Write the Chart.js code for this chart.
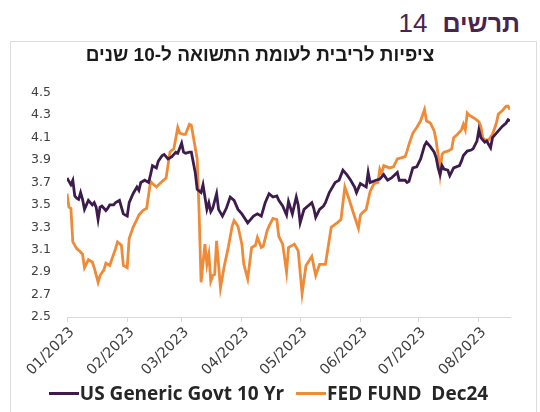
<!DOCTYPE html>
<html>
<head>
<meta charset="utf-8">
<script src="https://cdn.jsdelivr.net/npm/chart.js@4.4.1/dist/chart.umd.min.js"></script>
<style>
  html, body { margin: 0; padding: 0; background: #ffffff; overflow: hidden; }
  body { width: 540px; height: 412px; position: relative; }
  #header {
    position: absolute; right: 20px; top: 8px;
    direction: rtl; font-family: "Liberation Sans", Arial, sans-serif;
    font-size: 25px; color: #4a2350; line-height: 30px; white-space: nowrap;
  }
  #header b { font-weight: bold; margin-left: 15px; }
  #header span { font-size: 26px; }
  #frame {
    position: absolute; left: 10px; top: 41px; width: 527px; height: 390px;
    border: 1px solid #dcdcdc; box-sizing: border-box;
  }
  #wrap { position: absolute; left: 0px; top: 42px; width: 520px; height: 340px; }
  #legend {
    position: absolute; left: 11px; width: 515px; top: 381px; height: 24px;
    display: flex; justify-content: center; align-items: center;
    font-family: "Open Sans", sans-serif; font-weight: bold; font-size: 19px; color: #262626;
    white-space: pre;
  }
  .item { display: flex; align-items: center; margin: 0 6px; }
  .swatch { display: inline-block; width: 30px; height: 3px; margin-right: 1px; }
</style>
</head>
<body>
<div id="header"><b>תרשים</b><span>14</span></div>
<div id="frame"></div>
<div id="wrap"><canvas id="c"></canvas></div>
<div id="legend"></div>
<script>
// ---- Data (x = days since 01/01/2023) ----
const chartTitle = "ציפיות לריבית לעומת התשואה ל-10 שנים";
const seriesNames = ["US Generic Govt 10 Yr", "FED FUND  Dec24"];

const monthStarts = [0, 31, 59, 90, 120, 151, 181, 212];
const monthLabels = ["01/2023", "02/2023", "03/2023", "04/2023", "05/2023", "06/2023", "07/2023", "08/2023"];

const yTickMin = 2.5;
const yTickMax = 4.5;
const yTickStep = 0.2;

const govtDays = [0,1,2,3,4,5,6,7,8,9,11,13,14,15,16,17,18,20,21,22,24,25,27,29,31,32,34,36,37,38,40,42,43,44,46,47,49,50,52,54,55,56,57,59,60,61,63,64,66,67,69,70,72,73,74,75,77,78,80,82,84,86,88,90,93,96,98,100,102,104,106,108,109,111,113,114,116,118,119,120,122,124,126,127,128,130,132,133,135,138,139,140,142,144,146,148,149,151,153,154,155,156,159,161,163,165,167,170,171,174,175,176,178,180,182,184,185,187,189,190,191,192,193,194,196,197,199,202,203,204,206,208,209,211,212,213,215,216,218,219,221,222,224,226,227,228];
const govtValues = [3.74,3.71,3.68,3.72,3.58,3.56,3.55,3.61,3.55,3.46,3.54,3.50,3.52,3.48,3.37,3.48,3.49,3.45,3.47,3.50,3.50,3.52,3.54,3.42,3.40,3.52,3.60,3.66,3.63,3.70,3.72,3.70,3.77,3.85,3.83,3.89,3.94,3.95,3.91,3.93,3.95,3.97,3.96,4.05,3.97,3.96,3.97,3.97,3.79,3.64,3.61,3.68,3.46,3.52,3.44,3.47,3.60,3.46,3.40,3.47,3.57,3.54,3.46,3.42,3.34,3.40,3.42,3.40,3.52,3.60,3.57,3.58,3.54,3.49,3.41,3.53,3.42,3.57,3.50,3.34,3.46,3.49,3.52,3.47,3.39,3.46,3.49,3.52,3.61,3.70,3.71,3.72,3.81,3.77,3.72,3.66,3.61,3.69,3.67,3.66,3.79,3.70,3.72,3.73,3.77,3.72,3.74,3.79,3.72,3.72,3.70,3.71,3.83,3.84,3.91,4.03,4.06,4.02,3.97,3.92,3.83,3.77,3.85,3.82,3.81,3.76,3.83,3.85,3.89,3.94,3.98,3.99,4.00,4.07,4.17,4.10,4.06,4.07,4.01,4.10,4.14,4.16,4.20,4.23,4.26,4.25];

const fedDays = [0,1,2,3,5,7,8,9,11,13,14,16,17,19,20,22,23,25,26,28,29,31,32,34,36,37,39,41,43,44,46,49,51,53,54,55,57,58,60,61,63,64,67,68,69,71,72,73,74,75,76,77,79,81,83,85,86,88,90,91,93,95,97,98,100,101,103,104,106,108,109,111,113,114,117,119,121,123,126,128,130,133,136,139,141,143,145,147,150,151,152,154,156,158,160,161,162,163,166,168,170,172,174,175,176,178,180,182,184,185,187,189,190,191,192,193,194,196,198,199,201,203,204,205,206,207,209,210,212,213,214,215,217,219,221,222,224,226,227,228];
const fedValues = [3.60,3.48,3.47,3.17,3.11,3.08,3.06,2.94,3.01,2.99,2.94,2.81,2.87,2.92,2.98,2.96,3.01,3.11,3.17,3.14,2.96,2.94,3.20,3.30,3.37,3.41,3.45,3.47,3.71,3.69,3.66,3.71,3.74,3.97,3.99,4.00,4.19,4.14,4.13,4.13,4.22,4.21,3.91,3.43,2.81,3.15,2.97,3.06,2.82,2.87,2.88,3.18,2.76,2.96,3.12,3.31,3.36,3.31,3.15,2.97,2.84,3.12,3.14,3.21,3.12,3.13,3.27,3.31,3.38,3.37,3.22,3.15,2.90,3.12,3.15,3.09,2.71,2.96,3.04,2.87,2.97,2.97,3.30,3.34,3.37,3.66,3.56,3.45,3.29,3.41,3.43,3.46,3.62,3.69,3.70,3.82,3.78,3.85,3.83,3.84,3.91,3.92,3.93,3.98,4.04,4.14,4.19,4.25,4.35,4.25,4.23,4.16,4.07,3.95,3.78,3.95,3.97,3.98,4.00,4.10,4.13,4.17,4.22,4.17,4.32,4.30,4.28,4.27,4.24,4.20,4.10,4.08,4.08,4.13,4.23,4.31,4.34,4.38,4.38,4.35];

const purple = "#3d1b4c";
const orange = "#ef8a37";

function toPoints(days, values) {
  return days.map((d, i) => ({ x: d, y: values[i] }));
}

// HTML legend built from the chart's own datasets
const htmlLegend = {
  id: "htmlLegend",
  afterUpdate(chart) {
    const box = document.getElementById("legend");
    box.innerHTML = "";
    chart.options.plugins.legend.labels.generateLabels(chart).forEach((item) => {
      const el = document.createElement("span");
      el.className = "item";
      const sw = document.createElement("span");
      sw.className = "swatch";
      sw.style.background = item.strokeStyle;
      const tx = document.createElement("span");
      tx.textContent = item.text;
      el.appendChild(sw);
      el.appendChild(tx);
      box.appendChild(el);
    });
  }
};

new Chart(document.getElementById("c"), {
  type: "line",
  data: {
    datasets: [
      { label: seriesNames[0], data: toPoints(govtDays, govtValues), borderColor: purple, backgroundColor: purple, borderWidth: 2.8, pointRadius: 0, tension: 0 },
      { label: seriesNames[1], data: toPoints(fedDays, fedValues), borderColor: orange, backgroundColor: orange, borderWidth: 2.8, pointRadius: 0, tension: 0 }
    ]
  },
  plugins: [htmlLegend],
  options: {
    responsive: true,
    maintainAspectRatio: false,
    animation: false,
    layout: { padding: { left: 10, right: 10, top: 0, bottom: 5 } },
    scales: {
      x: {
        type: "linear",
        min: 0,
        max: govtDays[govtDays.length - 1],
        afterBuildTicks: (scale) => { scale.ticks = monthStarts.map(v => ({ value: v })); },
        afterFit: (axis) => { axis.height = 60; axis.paddingLeft = 0; axis.paddingRight = 0; },
        grid: { display: true, drawOnChartArea: false, drawTicks: true, tickLength: 5, color: "#d9d9d9" },
        border: { display: true, color: "#d9d9d9", width: 1 },
        ticks: {
          autoSkip: false,
          minRotation: 45,
          maxRotation: 45,
          padding: 2,
          labelOffset: 5,
          color: "#404040",
          font: { family: "DejaVu Sans", size: 14.5 },
          callback: (value, index) => monthLabels[index]
        }
      },
      y: {
        min: yTickMin,
        max: yTickMax,
        afterFit: (axis) => { axis.width = 57; },
        grid: { display: false, drawTicks: false },
        border: { display: false },
        ticks: {
          stepSize: yTickStep,
          padding: 16,
          color: "#404040",
          font: { family: "DejaVu Sans", size: 12.5 },
          callback: (v) => Number(v).toFixed(1)
        }
      }
    },
    plugins: {
      title: {
        display: true,
        text: chartTitle,
        color: "#1a1a1a",
        font: { family: "Liberation Sans", size: 19, weight: "bold" },
        padding: { top: 2, bottom: 26 }
      },
      legend: { display: false },
      tooltip: { enabled: false }
    }
  }
});
</script>
</body>
</html>
